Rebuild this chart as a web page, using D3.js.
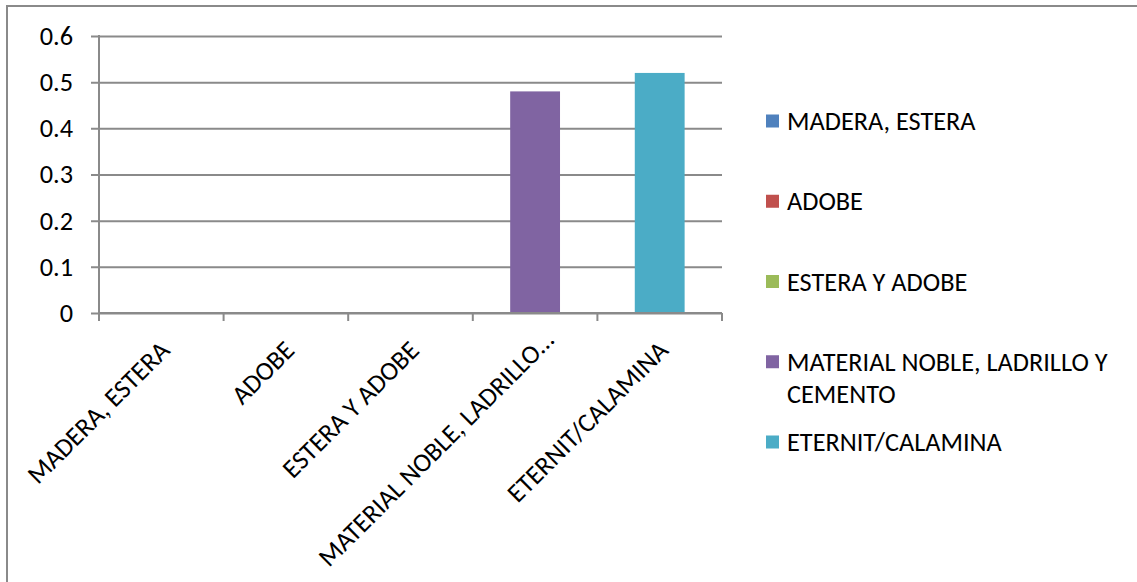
<!DOCTYPE html>
<html>
<head>
<meta charset="utf-8">
<script src="https://cdn.jsdelivr.net/npm/d3@7/dist/d3.min.js"></script>
<style>
  html, body { margin: 0; padding: 0; background: #ffffff; }
  svg { display: block; }
  text { font-family: Carlito, Lato, "Open Sans", sans-serif; fill: #000; }
</style>
</head>
<body>
<script>
// Roofing material categories and their shares
const categories = ["MADERA, ESTERA", "ADOBE", "ESTERA Y ADOBE", "MATERIAL NOBLE, LADRILLO Y CEMENTO", "ETERNIT/CALAMINA"];
const xTickLabels = ["MADERA, ESTERA", "ADOBE", "ESTERA Y ADOBE", "MATERIAL NOBLE, LADRILLO…", "ETERNIT/CALAMINA"];
const values = [0, 0, 0, 0.48, 0.52];
const seriesColors = ["#4F81BD", "#C0504D", "#9BBB59", "#8064A2", "#4BACC6"];
const yTicks = [0, 0.1, 0.2, 0.3, 0.4, 0.5, 0.6];

const W = 1137, H = 582;
const FONT = 26.3;
const GRID = "#8a8a8a";

const svg = d3.select("body").append("svg").attr("width", W).attr("height", H);

// outer chart frame
svg.append("rect")
  .attr("x", 7).attr("y", 6)
  .attr("width", W + 10).attr("height", H + 10)
  .attr("fill", "none").attr("stroke", GRID).attr("stroke-width", 2);

const plot = { left: 99, right: 722, top: 36, bottom: 313 };

const x = d3.scaleBand()
  .domain(categories)
  .range([plot.left, plot.right])
  .paddingInner(0.6)
  .paddingOuter(0.3);

const y = d3.scaleLinear().domain([0, 0.6]).range([plot.bottom, plot.top]);

// boundaries between categories (tick marks on the category axis)
const edge = d3.scaleLinear().domain([0, categories.length]).range([plot.left, plot.right]);

// horizontal gridlines with left tick stubs
const yAxis = d3.axisLeft(y)
  .tickValues(yTicks)
  .tickSize(-(plot.right - plot.left))
  .tickFormat(d3.format(""))
  .tickPadding(26);

const gy = svg.append("g").attr("transform", `translate(${plot.left},0)`).call(yAxis);
gy.select(".domain").remove();
gy.selectAll(".tick line")
  .attr("x1", -8)
  .attr("stroke", GRID).attr("stroke-width", 2);
gy.selectAll(".tick text")
  .attr("font-size", FONT)
  .style("font-family", "Carlito, Lato, 'Open Sans', sans-serif")
  .attr("fill", "#000");

// vertical axis line
svg.append("line")
  .attr("x1", plot.left).attr("x2", plot.left)
  .attr("y1", plot.top - 1).attr("y2", plot.bottom)
  .attr("stroke", GRID).attr("stroke-width", 2);

// bars
svg.append("g").selectAll("rect")
  .data(categories)
  .join("rect")
  .attr("x", d => x(d))
  .attr("width", x.bandwidth())
  .attr("y", (d, i) => y(values[i]))
  .attr("height", (d, i) => y(0) - y(values[i]))
  .attr("fill", (d, i) => seriesColors[i]);

// category axis line and boundary ticks
svg.append("line")
  .attr("x1", plot.left).attr("x2", plot.right)
  .attr("y1", y(0)).attr("y2", y(0))
  .attr("stroke", GRID).attr("stroke-width", 2);

svg.append("g").selectAll("line")
  .data(d3.range(categories.length + 1))
  .join("line")
  .attr("x1", d => edge(d)).attr("x2", d => edge(d))
  .attr("y1", y(0)).attr("y2", y(0) + 8)
  .attr("stroke", GRID).attr("stroke-width", 2);

// rotated category labels, kept inside the frame
const c45 = Math.SQRT1_2;
const labelBottom = 568;
svg.append("g").selectAll("text")
  .data(categories)
  .join("text")
  .attr("font-size", FONT)
  .attr("text-anchor", "end")
  .text((d, i) => xTickLabels[i])
  .each(function (d) {
    const len = this.getComputedTextLength();
    let ex = x(d) + x.bandwidth() / 2 + 10;
    let ey = 352;
    const startY = ey + len * c45;
    if (startY > labelBottom) {
      const s = (startY - labelBottom) / c45;
      ex += s * c45;
      ey -= s * c45;
    }
    d3.select(this).attr("transform", `translate(${ex},${ey}) rotate(-45)`);
  });

// legend
const legendY = d3.scalePoint().domain(categories).range([121, 442]);
const legendMaxWidth = 340;
const legend = svg.append("g");
categories.forEach((name, i) => {
  const cy = legendY(name);
  legend.append("rect")
    .attr("x", 766).attr("y", cy - 6.5)
    .attr("width", 13).attr("height", 13)
    .attr("fill", seriesColors[i]);
  const t = legend.append("text")
    .attr("x", 787).attr("y", cy)
    .attr("dy", "0.35em")
    .attr("font-size", FONT);
  // word wrap
  const words = name.split(" ");
  let line = [];
  let tspan = t.append("tspan").attr("x", 787).attr("y", cy).attr("dy", "0.35em");
  let lineNo = 0;
  words.forEach(w => {
    line.push(w);
    tspan.text(line.join(" "));
    if (tspan.node().getComputedTextLength() > legendMaxWidth && line.length > 1) {
      line.pop();
      tspan.text(line.join(" "));
      line = [w];
      lineNo++;
      tspan = t.append("tspan").attr("x", 787).attr("y", cy + lineNo * 32).attr("dy", "0.35em").text(w);
    }
  });
});
</script>
</body>
</html>
